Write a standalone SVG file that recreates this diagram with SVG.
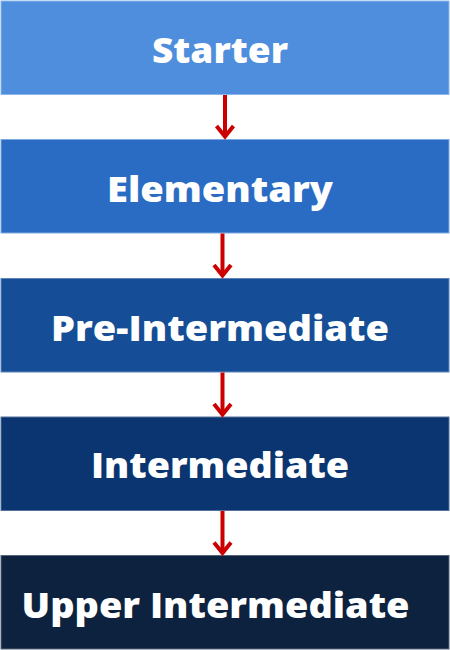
<svg xmlns="http://www.w3.org/2000/svg" width="450" height="650" viewBox="0 0 450 650">
<style>
.lbl{font-family:"Open Sans","Liberation Sans",sans-serif;font-weight:800;font-size:36px;fill:#ffffff;}
.arr{fill:none;stroke:#CC0000;stroke-width:4;}
.head{fill:none;stroke:#CC0000;stroke-width:4;stroke-linecap:butt;stroke-linejoin:miter;}
</style>
<rect width="450" height="650" fill="#ffffff"/>
<g id="node-starter">
<rect x="1" y="1" width="448" height="93.5" fill="#4F8EDC" stroke="#8CB5EA" stroke-width="1"/>
<text class="lbl" x="220" y="63" text-anchor="middle" textLength="136" lengthAdjust="spacingAndGlyphs">Starter</text>
</g>
<g id="node-elementary">
<rect x="1" y="139.5" width="448" height="93.5" fill="#2A6CC3" stroke="#7FA8DE" stroke-width="1"/>
<text class="lbl" x="220" y="202" text-anchor="middle" textLength="226" lengthAdjust="spacingAndGlyphs">Elementary</text>
</g>
<g id="node-preintermediate">
<rect x="1" y="278.5" width="448" height="93.5" fill="#154E96" stroke="#5C84BA" stroke-width="1"/>
<text class="lbl" x="220" y="341" text-anchor="middle" textLength="338" lengthAdjust="spacingAndGlyphs">Pre-Intermediate</text>
</g>
<g id="node-intermediate">
<rect x="1" y="417" width="448" height="93.5" fill="#0B3570" stroke="#54709A" stroke-width="1"/>
<text class="lbl" x="220" y="478" text-anchor="middle" textLength="258" lengthAdjust="spacingAndGlyphs">Intermediate</text>
</g>
<g id="node-upperintermediate">
<rect x="1" y="555.5" width="448" height="93.5" fill="#0D223E" stroke="#56647A" stroke-width="1"/>
<text class="lbl" x="215.5" y="618" text-anchor="middle" textLength="388" lengthAdjust="spacingAndGlyphs">Upper Intermediate</text>
</g>
<g id="connectors">
<line class="arr" x1="225" y1="95" x2="225" y2="136"/>
<polyline class="head" points="216.5,126 225,136.5 233.5,126"/>
<line class="arr" x1="222.5" y1="233.5" x2="222.5" y2="275"/>
<polyline class="head" points="214,265 222.5,275.5 231,265"/>
<line class="arr" x1="222.5" y1="372.5" x2="222.5" y2="414"/>
<polyline class="head" points="214,404 222.5,414.5 231,404"/>
<line class="arr" x1="222.5" y1="511" x2="222.5" y2="552.5"/>
<polyline class="head" points="214,542.5 222.5,553 231,542.5"/>
</g>
</svg>
